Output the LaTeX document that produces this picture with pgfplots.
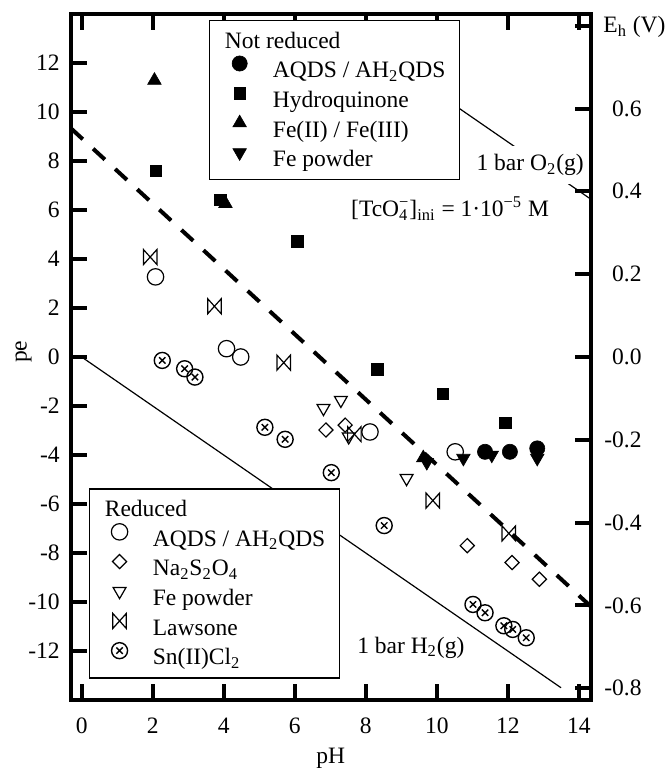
\documentclass[border=0pt]{standalone}
\usepackage{fontspec}
\setmainfont{Liberation Serif}
\usepackage{pgfplots}
\pgfplotsset{compat=1.18}
\usetikzlibrary{calc}

\pgfdeclareplotmark{bowtie}{%
  \pgfpathmoveto{\pgfqpoint{-0.9\pgfplotmarksize}{-\pgfplotmarksize}}%
  \pgfpathlineto{\pgfqpoint{-0.9\pgfplotmarksize}{\pgfplotmarksize}}%
  \pgfpathlineto{\pgfqpoint{0.9\pgfplotmarksize}{-\pgfplotmarksize}}%
  \pgfpathlineto{\pgfqpoint{0.9\pgfplotmarksize}{\pgfplotmarksize}}%
  \pgfpathclose
  \pgfusepathqstroke}
\pgfdeclareplotmark{otimes}{%
  \pgfpathcircle{\pgfpointorigin}{\pgfplotmarksize}%
  \pgfpathmoveto{\pgfqpoint{-0.4\pgfplotmarksize}{-0.4\pgfplotmarksize}}%
  \pgfpathlineto{\pgfqpoint{0.4\pgfplotmarksize}{0.4\pgfplotmarksize}}%
  \pgfpathmoveto{\pgfqpoint{-0.4\pgfplotmarksize}{0.4\pgfplotmarksize}}%
  \pgfpathlineto{\pgfqpoint{0.4\pgfplotmarksize}{-0.4\pgfplotmarksize}}%
  \pgfusepathqstroke}

\newcommand{\subsup}[2]{\rlap{\textsubscript{#1}}\textsuperscript{#2}}

\pgfplotsset{
  mylegend/.style={
    legend cell align=left,
    legend image code/.code={\path[draw=none, fill=none] (0pt,-1pt) rectangle (16pt,8pt); \draw[##1] plot coordinates {(8pt,3.5pt)};},
    legend style={anchor=north west, draw=black, line width=0.65pt, fill=white,
      inner xsep=7.2pt, inner ysep=3.5pt, row sep=0.25pt, column sep=8.65pt,
      nodes={inner sep=0pt, text height=10.2pt, text depth=3pt}},
  },
  myframe/.style={scale only axis, width=259.75pt, height=343pt,
    xmin=-0.30, xmax=14.33},
}

\begin{document}
\fontsize{11.75pt}{14pt}\selectfont
\begin{tikzpicture}
% ---------- main axis: frame, lines, not reduced ----------
\begin{axis}[myframe, name=main,
  ymin=-14, ymax=14,
  xtick={0,2,...,14}, ytick={-12,-10,...,12},
  ytick pos=left, xtick pos=both,
  tick align=inside, major tick length=8pt,
  axis line style={line width=2pt},
  tick style={line width=2pt, black},
  /pgf/number format/assume math mode=true,
  xticklabel style={inner sep=0pt, anchor=north, yshift=-8.75pt},
  yticklabel style={inner sep=0pt, anchor=east, xshift=-5.5pt},
  mylegend, legend style={at={(0.2649,0.9913)}},
]
\addplot[forget plot, line width=2pt, dash pattern=on 8pt off 7pt, no markers] coordinates {(-0.30,9.33) (14.33,-10.17)};
\addplot[forget plot, line width=0.6pt, no markers] coordinates {(0,0) (13.5,-13.5)};
\addplot[forget plot, line width=0.6pt, no markers] coordinates {(10.6,10.18) (14.33,6.45)};

\addlegendimage{empty legend}
\addlegendentry{\hspace*{-24pt}Not reduced}

\addplot[only marks, mark=*, mark size=3.8pt, mark options={fill=black, draw=black, line width=0.3pt}]
  coordinates {(11.36,-3.87) (12.06,-3.87) (12.83,-3.73)};
\addlegendentry{AQDS / AH\textsubscript{2}QDS}

\addplot[only marks, mark=square*, mark size=2.85pt, mark options={fill=black, draw=black, line width=0.3pt}]
  coordinates {(2.08,7.59) (3.90,6.42) (6.07,4.73) (8.33,-0.50) (10.17,-1.50) (11.93,-2.68)};
\addlegendentry{Hydroquinone}

\addplot[only marks, mark=triangle*, mark size=3.9pt, mark options={fill=black, draw=black, line width=0.3pt}]
  coordinates {(2.05,11.29) (4.05,6.26) (9.62,-4.12)};
\addlegendentry{Fe(II) / Fe(III)}

\addplot[only marks, mark=triangle*, mark size=3.9pt, mark options={rotate=180, fill=black, draw=black, line width=0.3pt}]
  coordinates {(9.72,-4.30) (10.75,-4.13) (11.55,-4.00) (12.83,-4.13)};
\addlegendentry{Fe powder}

\node[anchor=base west, inner xsep=2pt, inner ysep=4pt, fill=white, xshift=-2pt] at (axis cs:11.11,7.60) {1 bar O\textsubscript{2}(g)};
\node[anchor=base west, inner sep=0pt] at (axis cs:7.58,5.73) {[TcO\subsup{4}{−}]\textsubscript{ini} = 1·10\textsuperscript{−5} M};
\node[anchor=base west, inner sep=0pt] at (axis cs:7.75,-12.09) {1 bar H\textsubscript{2}(g)};
\end{axis}

% ---------- reduced ----------
\begin{axis}[myframe, hide axis, ymin=-14, ymax=14,
  mylegend, legend style={at={(0.0337,0.3086)}},
]
\addlegendimage{empty legend}
\addlegendentry{\hspace*{-24pt}Reduced}

\addplot[only marks, mark=o, mark size=4.1pt, mark options={draw=black, line width=0.6pt}]
  coordinates {(2.08,3.27) (4.08,0.34) (4.48,0.00) (8.12,-3.06) (10.52,-3.87)};
\addlegendentry{AQDS / AH\textsubscript{2}QDS}

\addplot[only marks, mark=square, mark size=2.5pt, mark options={rotate=45, draw=black, line width=0.6pt}]
  coordinates {(6.88,-2.98) (7.42,-2.78) (10.86,-7.70) (12.12,-8.39) (12.89,-9.07)};
\addlegendentry{Na\textsubscript{2}S\textsubscript{2}O\textsubscript{4}}

\addplot[only marks, mark=triangle, mark size=3.7pt, mark options={rotate=180, draw=black, line width=0.6pt}]
  coordinates {(6.81,-2.09) (7.30,-1.76) (7.52,-3.25) (9.15,-4.95)};
\addlegendentry{Fe powder}

\addplot[only marks, mark=bowtie, mark size=3.75pt, mark options={draw=black, line width=0.6pt}]
  coordinates {(1.93,4.08) (3.74,2.07) (5.69,-0.23) (7.68,-3.15) (9.89,-5.86) (12.03,-7.20)};
\addlegendentry{Lawsone}

\addplot[only marks, mark=otimes, mark size=4pt, mark options={draw=black, line width=0.7pt}]
  coordinates {(2.27,-0.14) (2.90,-0.48) (3.19,-0.82) (5.16,-2.87) (5.73,-3.36) (7.03,-4.72) (8.52,-6.88) (11.02,-10.10) (11.36,-10.44) (11.89,-10.97) (12.14,-11.12) (12.52,-11.46)};
\addlegendentry{Sn(II)Cl\textsubscript{2}}
\end{axis}

% ---------- E_h axis ----------
\begin{axis}[myframe, ymin=-0.82824, ymax=0.82824,
  axis x line=none, axis y line*=right,
  ytick={-0.8,-0.6,-0.4,-0.2,0,0.2,0.4,0.6,0.8},
  yticklabels={-0.8,-0.6,-0.4,-0.2,0.0,0.2,0.4,0.6,{}},
  tick align=inside, major tick length=8pt,
  axis line style={line width=2pt, -},
  tick style={line width=2pt, black},
  yticklabel style={inner sep=0pt, anchor=east, xshift=25.75pt},
]
\end{axis}

\node[anchor=base west, inner sep=0pt] at ($(main.north east)+(6.25pt,-9.5pt)$) {E\textsubscript{h} (V)};
\node[rotate=90, anchor=base, inner sep=0pt] at ($(main.west)+(-22.2pt,2.6pt)$) {pe};
\node[anchor=base, inner sep=0pt] at ($(main.south)+(0pt,-31.5pt)$) {pH};

\pgfresetboundingbox
\path[use as bounding box] ($(main.south west)+(-35.5pt,-34.5pt)$) rectangle ($(main.north east)+(39.75pt,7pt)$);
\end{tikzpicture}
\end{document}
